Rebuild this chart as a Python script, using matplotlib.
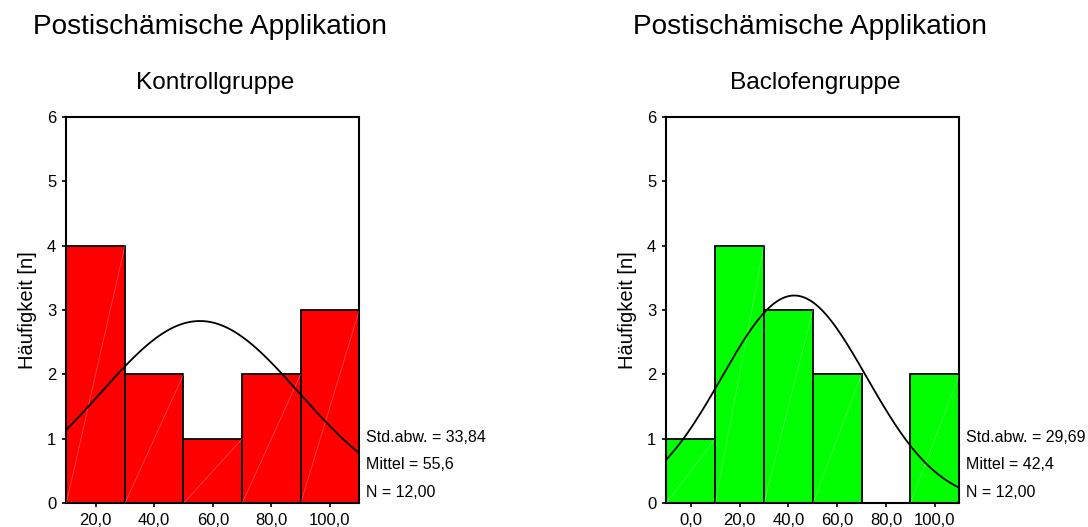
import numpy as np
import matplotlib
matplotlib.use("Agg")
import matplotlib.pyplot as plt

plt.rcParams['font.family'] = ['Liberation Sans', 'DejaVu Sans']

main_title = "Postischämische Applikation"
ylabel = "Häufigkeit [n]"

# Kontrollgruppe
ctrl_edges = [10, 30, 50, 70, 90, 110]
ctrl_counts = [4, 2, 1, 2, 3]
ctrl_ticks = [20, 40, 60, 80, 100]
ctrl_stats = {"sd": 33.84, "mean": 55.6, "n": 12}

# Baclofengruppe
bac_edges = [-10, 10, 30, 50, 70, 90, 110]
bac_counts = [1, 4, 3, 2, 0, 2]
bac_ticks = [0, 20, 40, 60, 80, 100]
bac_stats = {"sd": 29.69, "mean": 42.4, "n": 12}

panels = [
    ("Kontrollgruppe", ctrl_edges, ctrl_counts, ctrl_ticks, ctrl_stats, "#FF0000"),
    ("Baclofengruppe", bac_edges, bac_counts, bac_ticks, bac_stats, "#00FF00"),
]

W, H = 1088, 527
fig = plt.figure(figsize=(W / 100, H / 100), dpi=100)

ax_lefts = [66.3, 666.3]
ax_w = 293.0
ax_top, ax_bot = 116.7, 503.3

def de(v, nd):
    return f"{v:.{nd}f}".replace(".", ",")

for i, (sub, edges, counts, ticks, st, col) in enumerate(panels):
    x0 = ax_lefts[i]
    ax = fig.add_axes([x0 / W, 1 - ax_bot / H, ax_w / W, (ax_bot - ax_top) / H])
    edges_a = np.array(edges, dtype=float)
    counts_a = np.array(counts, dtype=float)
    widths = np.diff(edges_a)
    for l, w, c in zip(edges_a[:-1], widths, counts_a):
        if c > 0:
            ax.bar(l, c, width=w, align='edge', color=col, edgecolor='black',
                   linewidth=1.3, zorder=2)
            ax.plot([l, l + w], [0, c], color='white', lw=0.5, alpha=0.35, zorder=3)
    # normal curve from the reported statistics
    bw = widths[0]
    xs = np.linspace(edges_a[0], edges_a[-1], 300)
    ys = st["n"] * bw / (st["sd"] * np.sqrt(2 * np.pi)) * np.exp(-0.5 * ((xs - st["mean"]) / st["sd"]) ** 2)
    ax.plot(xs, ys, color='black', lw=1.3, zorder=4)

    ax.set_xlim(edges_a[0], edges_a[-1])
    ax.set_ylim(0, 6)
    ax.set_yticks(range(0, 7))
    ax.set_xticks(ticks)
    ax.set_xticklabels([de(t, 1) for t in ticks])
    ax.tick_params(axis='both', direction='out', length=3.2, width=1.2,
                   labelsize=12, color='black', pad=4)
    for sp in ax.spines.values():
        sp.set_linewidth(1.5)
        sp.set_color('black')
    ax.set_ylabel(ylabel, fontsize=14.5, labelpad=7)

    # texts
    fig.text((x0 - 33.3) / W, 1 - 34 / H, main_title, fontsize=20.2, ha='left', va='baseline')
    fig.text((x0 + ax_w / 2 + 2) / W, 1 - 89 / H, sub, fontsize=17.6, ha='center', va='baseline')
    tx = (x0 + ax_w + 6.5) / W
    fig.text(tx, 1 - 441.7 / H, f"Std.abw. = {de(st['sd'], 2)}", fontsize=11.5, va='baseline')
    fig.text(tx, 1 - 469 / H, f"Mittel = {de(st['mean'], 1)}", fontsize=11.5, va='baseline')
    fig.text(tx, 1 - 497 / H, f"N = {de(st['n'], 2)}", fontsize=11.5, va='baseline')

fig.savefig("out.png", dpi=100)
